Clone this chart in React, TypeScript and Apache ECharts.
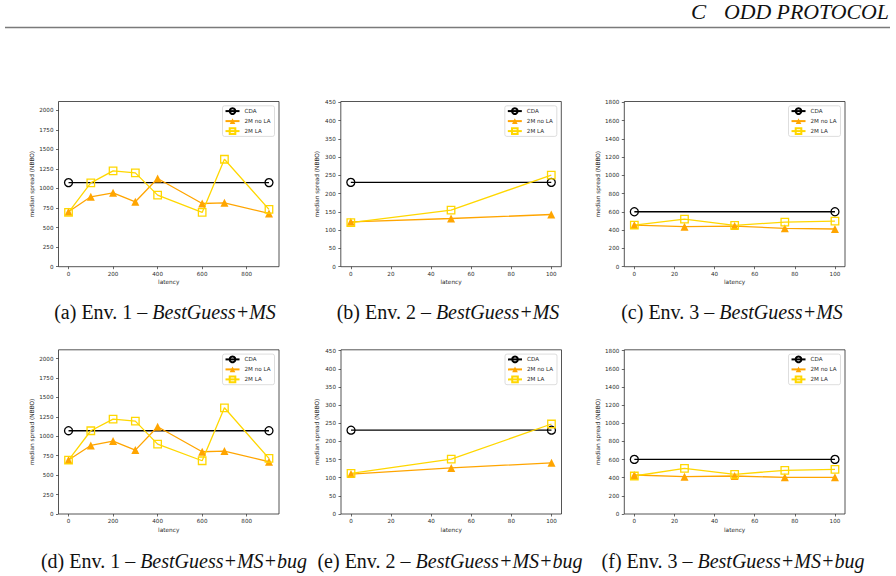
import React, { useEffect, useRef } from 'react';
import * as echarts from 'echarts';

// ---- data -----------------------------------------------------------------
const seriesNames = ['CDA', '2M no LA', '2M LA'];

const env1Latency = [0, 100, 200, 300, 400, 600, 700, 900];
const env2Latency = [0, 50, 100];
const env3Latency = [0, 25, 50, 75, 100];
const env1CdaLatency = [0, 900];
const env23CdaLatency = [0, 100];

// Env. 1 – BestGuess+MS
const env1MsCda = [1075, 1075];
const env1MsNoLa = [702, 894, 945, 830, 1128, 808, 817, 681];
const env1MsLa = [694, 1072, 1225, 1200, 915, 694, 1374, 732];
// Env. 2 – BestGuess+MS
const env2MsCda = [231, 231];
const env2MsNoLa = [123, 132, 143];
const env2MsLa = [121, 155, 251];
// Env. 3 – BestGuess+MS
const env3MsCda = [602, 602];
const env3MsNoLa = [456, 438, 445, 420, 413];
const env3MsLa = [456, 522, 453, 489, 500];
// Env. 1 – BestGuess+MS+bug
const env1BugCda = [1071, 1071];
const env1BugNoLa = [694, 882, 938, 822, 1122, 801, 810, 672];
const env1BugLa = [694, 1071, 1221, 1195, 899, 685, 1366, 715];
// Env. 2 – BestGuess+MS+bug
const env2BugCda = [231, 231];
const env2BugNoLa = [110, 127, 141];
const env2BugLa = [112, 151, 248];
// Env. 3 – BestGuess+MS+bug
const env3BugCda = [602, 602];
const env3BugNoLa = [430, 411, 419, 404, 404];
const env3BugLa = [419, 503, 437, 481, 492];

// tick labels
const env1XTicks = [0, 200, 400, 600, 800];
const env23XTicks = [0, 20, 40, 60, 80, 100];
const env1YTicks = [0, 250, 500, 750, 1000, 1250, 1500, 1750, 2000];
const env2YTicks = [0, 50, 100, 150, 200, 250, 300, 350, 400, 450];
const env3YTicks = [0, 200, 400, 600, 800, 1000, 1200, 1400, 1600, 1800];

// captions
const captionTags = ['(a)', '(b)', '(c)', '(d)', '(e)', '(f)'];
const captionEnvs = ['Env. 1', 'Env. 2', 'Env. 3', 'Env. 1', 'Env. 2', 'Env. 3'];
const captionMethods = [
  'BestGuess+MS',
  'BestGuess+MS',
  'BestGuess+MS',
  'BestGuess+MS+bug',
  'BestGuess+MS+bug',
  'BestGuess+MS+bug',
];
const headerLetter = 'C';
const headerTitle = 'ODD PROTOCOL';

const xAxisTitle = 'latency';
const yAxisTitle = 'median spread (NBBO)';

// ---- panels ---------------------------------------------------------------
const panels = [
  { x: env1Latency, cdaX: env1CdaLatency, cda: env1MsCda, noLa: env1MsNoLa, la: env1MsLa, xTicks: env1XTicks, yTicks: env1YTicks, xMin: -45, xMax: 945, yMax: 2112 },
  { x: env2Latency, cdaX: env23CdaLatency, cda: env2MsCda, noLa: env2MsNoLa, la: env2MsLa, xTicks: env23XTicks, yTicks: env2YTicks, xMin: -5, xMax: 105, yMax: 452.5 },
  { x: env3Latency, cdaX: env23CdaLatency, cda: env3MsCda, noLa: env3MsNoLa, la: env3MsLa, xTicks: env23XTicks, yTicks: env3YTicks, xMin: -5, xMax: 105, yMax: 1810 },
  { x: env1Latency, cdaX: env1CdaLatency, cda: env1BugCda, noLa: env1BugNoLa, la: env1BugLa, xTicks: env1XTicks, yTicks: env1YTicks, xMin: -45, xMax: 945, yMax: 2112 },
  { x: env2Latency, cdaX: env23CdaLatency, cda: env2BugCda, noLa: env2BugNoLa, la: env2BugLa, xTicks: env23XTicks, yTicks: env2YTicks, xMin: -5, xMax: 105, yMax: 452.5 },
  { x: env3Latency, cdaX: env23CdaLatency, cda: env3BugCda, noLa: env3BugNoLa, la: env3BugLa, xTicks: env23XTicks, yTicks: env3YTicks, xMin: -5, xMax: 105, yMax: 1810 },
];

const gridBoxes = [
  { left: 58.5, top: 101.5, width: 220.5, height: 165.2 },
  { left: 340.8, top: 101.5, width: 220.5, height: 165.2 },
  { left: 624.3, top: 101.5, width: 220.7, height: 165.2 },
  { left: 58.5, top: 349.8, width: 220.5, height: 164.2 },
  { left: 341.0, top: 349.8, width: 220.5, height: 164.2 },
  { left: 624.3, top: 349.8, width: 220.7, height: 164.2 },
];
const captionCenters = [
  { x: 165, y: 312 },
  { x: 448, y: 312 },
  { x: 732, y: 312 },
  { x: 174, y: 561 },
  { x: 450, y: 561 },
  { x: 733, y: 561 },
];

const W = 896;
const H = 576;
const INK = '#2a2a2a';
const TICK_FONT = 'DejaVu Sans, sans-serif';
const SERIF = 'Liberation Serif, DejaVu Serif, serif';
const CAPTION_SIZE = 20;
const COLOR_CDA = '#000000';
const COLOR_NOLA = '#ffa500';
const COLOR_LA = '#ffd700';

const zip = (xs: number[], ys: number[]) => xs.map((v, i) => [v, ys[i]]);
const plain = (v: number) => String(v);

function buildOption() {
  const grid = gridBoxes.map((b) => ({
    ...b,
    show: true,
    borderColor: INK,
    borderWidth: 0.8,
    backgroundColor: '#fff',
    containLabel: false,
  }));

  const xAxis = panels.map((p, i) => ({
    type: 'value',
    gridIndex: i,
    min: p.xMin,
    max: p.xMax,
    axisLine: { show: false, onZero: false },
    splitLine: { show: false },
    axisTick: {
      show: true,
      customValues: p.xTicks,
      length: 2.5,
      lineStyle: { color: INK, width: 0.7 },
    },
    axisLabel: {
      customValues: p.xTicks,
      formatter: plain,
      fontSize: 5.6,
      fontFamily: TICK_FONT,
      color: INK,
      margin: 4,
    },
    name: xAxisTitle,
    nameLocation: 'middle',
    nameGap: 12.5,
    nameTextStyle: { fontSize: 5.8, fontFamily: TICK_FONT, color: INK },
  }));

  const yAxis = panels.map((p, i) => ({
    type: 'value',
    gridIndex: i,
    min: 0,
    max: p.yMax,
    axisLine: { show: false, onZero: false },
    splitLine: { show: false },
    axisTick: {
      show: true,
      customValues: p.yTicks,
      length: 2.5,
      lineStyle: { color: INK, width: 0.7 },
    },
    axisLabel: {
      customValues: p.yTicks,
      formatter: plain,
      fontSize: 5.6,
      fontFamily: TICK_FONT,
      color: INK,
      margin: 5,
    },
    name: yAxisTitle,
    nameLocation: 'middle',
    nameGap: 21,
    nameTextStyle: { fontSize: 5.8, fontFamily: TICK_FONT, color: INK },
  }));

  const series: any[] = [];
  panels.forEach((p, i) => {
    const common = {
      type: 'line',
      xAxisIndex: i,
      yAxisIndex: i,
      silent: true,
      emphasis: { disabled: true },
      showSymbol: true,
    };
    series.push({
      ...common,
      name: seriesNames[0],
      data: zip(p.cdaX, p.cda),
      symbol: 'circle',
      symbolSize: 8,
      itemStyle: { color: 'rgba(0,0,0,0)', borderColor: COLOR_CDA, borderWidth: 1.3 },
      lineStyle: { color: COLOR_CDA, width: 1.3 },
    });
    series.push({
      ...common,
      name: seriesNames[1],
      data: zip(p.x, p.noLa),
      symbol: 'triangle',
      symbolSize: 8,
      itemStyle: { color: COLOR_NOLA },
      lineStyle: { color: COLOR_NOLA, width: 1.3 },
    });
    series.push({
      ...common,
      name: seriesNames[2],
      data: zip(p.x, p.la),
      symbol: 'rect',
      symbolSize: 7.5,
      itemStyle: { color: 'rgba(0,0,0,0)', borderColor: COLOR_LA, borderWidth: 1.3 },
      lineStyle: { color: COLOR_LA, width: 1.3 },
    });
  });

  const legend = gridBoxes.map((b) => ({
    data: seriesNames,
    orient: 'vertical',
    right: W - (b.left + b.width - 4.5),
    top: b.top + 4.3,
    itemWidth: 14,
    itemHeight: 7,
    itemGap: 3.2,
    padding: [1.5, 4, 1.5, 2],
    selectedMode: false,
    borderColor: '#d4d4d4',
    borderWidth: 0.8,
    borderRadius: 2,
    backgroundColor: '#fff',
    textStyle: { fontSize: 5.6, fontFamily: TICK_FONT, color: INK },
  }));

  const captionRich = {
    r: { fontFamily: SERIF, fontSize: CAPTION_SIZE, fontStyle: 'normal', fill: '#111' },
    i: { fontFamily: SERIF, fontSize: CAPTION_SIZE, fontStyle: 'italic', fill: '#111' },
  };

  const graphic: any[] = [
    {
      type: 'text',
      x: 691,
      y: 12,
      scaleX: 1.08,
      style: {
        text: headerLetter,
        font: `italic ${CAPTION_SIZE + 1}px ${SERIF}`,
        fill: '#111',
        align: 'left',
        verticalAlign: 'middle',
      },
    },
    {
      type: 'text',
      x: 889,
      y: 12,
      scaleX: 1.04,
      style: {
        text: headerTitle,
        font: `italic ${CAPTION_SIZE + 1}px ${SERIF}`,
        fill: '#111',
        align: 'right',
        verticalAlign: 'middle',
      },
    },
    {
      type: 'line',
      shape: { x1: 5, y1: 27.5, x2: 890, y2: 27.5 },
      style: { stroke: '#7a7a7a', lineWidth: 1.6 },
    },
    ...captionCenters.map((c, i) => ({
      type: 'text',
      x: c.x,
      y: c.y,
      style: {
        text: `{r|${captionTags[i]} ${captionEnvs[i]} – }{i|${captionMethods[i]}}`,
        rich: captionRich,
        align: 'center',
        verticalAlign: 'middle',
      },
    })),
  ];

  return {
    animation: false,
    backgroundColor: '#ffffff',
    grid,
    xAxis,
    yAxis,
    series,
    legend,
    graphic,
  };
}

export default function App() {
  const ref = useRef<HTMLDivElement>(null);

  useEffect(() => {
    document.body.style.margin = '0';
    if (!ref.current) return;
    const chart = echarts.init(ref.current, undefined, { renderer: 'svg' });
    chart.setOption(buildOption() as any);
    return () => {
      chart.dispose();
    };
  }, []);

  return <div ref={ref} style={{ width: W, height: H, background: '#fff' }} />;
}
